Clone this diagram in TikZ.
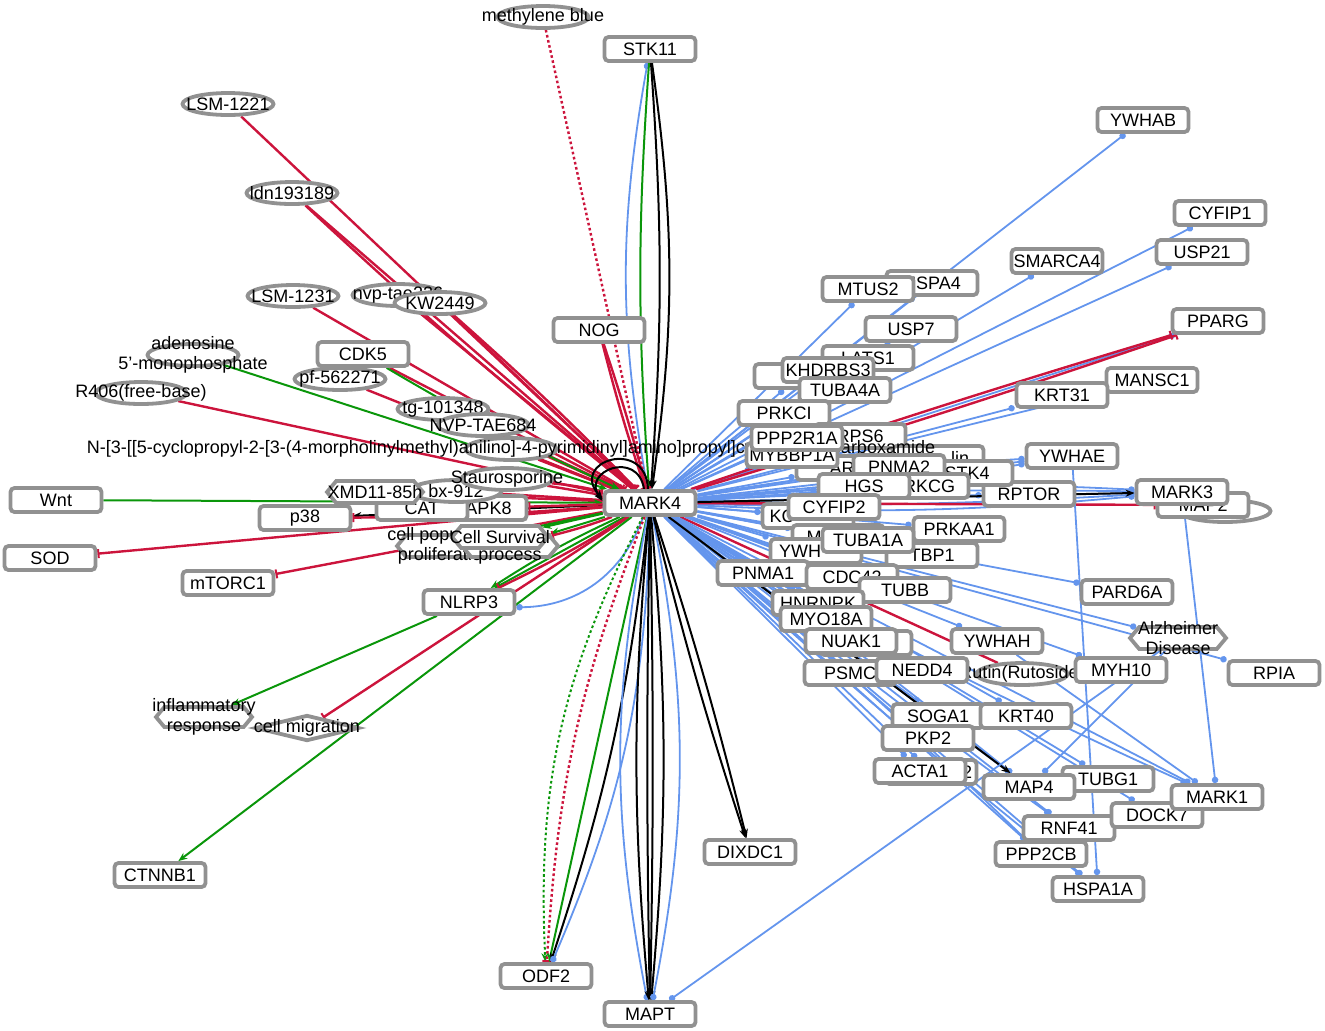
\documentclass[tikz,border=0pt]{standalone}
\usepackage{fontspec}
\setmainfont{Liberation Sans}
\usetikzlibrary{arrows.meta,shapes.geometric,shapes.symbols}
\definecolor{nodegray}{RGB}{145,145,145}
\definecolor{edgeblue}{RGB}{100,149,237}
\definecolor{edgered}{RGB}{204,20,60}
\definecolor{edgegreen}{RGB}{10,150,10}
\pgfdeclarelayer{edges}
\pgfsetlayers{edges,main}
\tikzset{
  gene/.style={rectangle, rounded corners=2pt, draw=nodegray, line width=1.9pt, fill=white, minimum width=45.5pt, minimum height=12pt, inner sep=0.5pt},
  drug/.style={ellipse, draw=nodegray, line width=1.9pt, fill=white, minimum width=45.5pt, minimum height=11pt, inner sep=0pt},
  proc/.style={signal, signal to=west and east, signal pointer angle=100, draw=nodegray, line width=1.9pt, fill=white, minimum width=48pt, minimum height=11pt, inner sep=0pt},
  pheno/.style={diamond, aspect=4, draw=nodegray, line width=1.9pt, fill=white, minimum width=52pt, minimum height=13pt, inner sep=0pt},
  bnd/.style={draw=edgeblue, line width=0.9pt, -{Circle[length=3.2pt]}},
  inh/.style={draw=edgered, line width=1.2pt, -{Bar[width=4.5pt,line width=1pt]}},
  act/.style={draw=edgegreen, line width=1pt, -{Stealth[length=4.5pt,width=3.5pt]}},
  blk/.style={draw=black, line width=1pt, -{Stealth[length=4.5pt,width=3.5pt]}},
  dots/.style={dash pattern=on 1.3pt off 1.3pt}
}
\begin{document}
\begin{tikzpicture}[x=0.5pt, y=-0.5pt, font=\fontsize{9}{10}\selectfont]
\useasboundingbox (0,0) rectangle (1325,1030);

% centre
\node[gene] (STK11) at (650,49) {STK11};
\node[drug, label={center:methylene blue}] (mblue) at (543,17) {};
\node[gene] (NOG) at (599,330) {NOG};
\node[gene] (ODF2) at (546,976) {ODF2};
\node[gene] (MAPT) at (650,1014) {MAPT};
\node[gene] (DIXDC1) at (750,852) {DIXDC1};

% right, upper part
\node[gene] (YWHAB) at (1143,120) {YWHAB};
\node[gene] (CYFIP1) at (1220,213) {CYFIP1};
\node[gene] (USP21) at (1202,252) {USP21};
\node[gene] (SMARCA4) at (1057,261) {SMARCA4};
\node[gene] (PPARG) at (1218,321) {PPARG};
\node[gene] (HSPA4) at (932,283) {HSPA4};
\node[gene] (MTUS2) at (868,289) {MTUS2};
\node[gene] (USP7) at (911,329) {USP7};
\node[gene] (MANSC1) at (1152,380) {MANSC1};
\node[gene] (KRT31) at (1062,395) {KRT31};
\node[gene] (LATS1) at (868,358) {LATS1};
\node[gene] (boxA) at (800,376) {};
\node[gene] (KHDRBS3) at (828,370) {KHDRBS3};
\node[gene] (TUBA4A) at (845,390) {TUBA4A};
\node[gene] (PRKCI) at (784,413) {PRKCI};
\node[gene] (RPS6) at (860,436) {RPS6};
\node[gene, label={[xshift=11pt]center:lin}] (linbox) at (938,458) {};

% left
\node[drug, label={center:LSM-1221}] (LSM1221) at (228,104) {};
\node[drug, label={center:ldn193189}] (ldn) at (292,193) {};
\node[drug, label={center:LSM-1231}] (LSM1231) at (293,296) {};
\node[drug, label={center:nvp-tae226}] (nvp) at (398,295) {};
\node[drug, label={center:KW2449}] (KW2449) at (440,303) {};
\node[gene] (CDK5) at (363,354) {CDK5};
\node[drug, label={[align=center]center:{adenosine\\5'-monophosphate}}] (AMP) at (193,355) {};
\node[drug, label={center:pf-562271}] (pf) at (340,379) {};
\node[drug, label={center:R406(free-base)}] (R406) at (141,393) {};
\node[drug, label={center:tg-101348}] (tg) at (443,409) {};
\node[drug, label={center:NVP-TAE684}] (NVP) at (483,425) {};
\node[drug, label={center:{N-[3-[[5-cyclopropyl-2-[3-(4-morpholinylmethyl)anilino]-4-pyrimidinyl]amino]propyl]cyclobutanecarboxamide}}] (Nlong) at (511,449) {};
\node[gene] (Wnt) at (56,500) {Wnt};
\node[gene] (SOD) at (50,558) {SOD};
\node[gene] (mTORC1) at (228,583) {mTORC1};
\node[gene] (p38) at (305,518) {p38};
\node[gene] (MAPK8) at (481,508) {MAPK8};
\node[gene] (CAT) at (422,508) {CAT};
\node[drug, label={center:bx-912}] (bxnine) at (456,491) {};
\node[proc, label={center:XMD11-85h}] (XMD) at (375,492) {};
\node[drug, label={center:Staurosporine}] (Stauro) at (507,479) {};
\node[proc, label={[align=center]center:{cell population\\proliferation}}] (cellpop) at (445,546) {};
\node[proc, label={[align=center]center:{apoptotic\\process}}] (apop) at (510,546) {};
\node[proc, label={center:Cell Survival}] (CellSurv) at (500,537) {};
\node[gene] (NLRP3) at (469,602) {NLRP3};
\node[proc, minimum height=10pt, label={[align=center]center:{inflammatory\\response}}] (infl) at (204,717) {};
\node[pheno, label={center:cell migration}] (migr) at (307,728) {};
\node[gene] (CTNNB1) at (160,875) {CTNNB1};

% right, lower part
\node[gene, label={center:AR}] (ARbox) at (842,468) {};
\node[gene] (MYBBP1A) at (792,455) {MYBBP1A};
\node[gene] (PPP2R1A) at (797,438) {PPP2R1A};
\node[gene] (YWHAE) at (1072,456) {YWHAE};
\node[gene] (RPTOR) at (1029,494) {RPTOR};
\node[gene] (STK4) at (967,473) {STK4};
\node[gene] (PNMA2) at (899,467) {PNMA2};
\node[gene] (PRKCG) at (923,486) {PRKCG};
\node[gene] (HGS) at (864,486) {HGS};
\node[drug] (MAPell) at (1225,511) {};
\node[gene] (MAP2) at (1203,505) {MAP2};
\node[gene] (MARK3) at (1182,492) {MARK3};
\node[gene, label={[xshift=-13pt]center:KC}] (KCbox) at (808,516) {};
\node[gene] (CYFIP2) at (834,507) {CYFIP2};
\node[gene] (PRKAA1) at (959,529) {PRKAA1};
\node[gene, label={[xshift=-12pt]center:M}] (Mbox) at (838,537) {};
\node[gene, label={[xshift=-8pt]center:YWH}] (YWHbox) at (816,551) {};
\node[gene] (TBP1) at (932,555) {TBP1};
\node[gene] (TUBA1A) at (868,540) {TUBA1A};
\node[gene] (PNMA1) at (763,573) {PNMA1};
\node[gene] (CDC42) at (852,577) {CDC42};
\node[gene] (TUBB) at (905,590) {TUBB};
\node[gene] (PARD6A) at (1127,592) {PARD6A};
\node[gene] (HNRNPK) at (818,603) {HNRNPK};
\node[gene] (MYO18A) at (826,619) {MYO18A};
\node[gene] (boxN) at (866,643) {};
\node[gene] (NUAK1) at (851,641) {NUAK1};
\node[gene] (YWHAH) at (997,641) {YWHAH};
\node[proc, label={[align=center]center:{Alzheimer\\Disease}}] (Alz) at (1178,638) {};
\node[gene] (RPIA) at (1274,673) {RPIA};
\node[drug, label={center:Rutin(Rutoside)}] (Rutin) at (1022,674) {};
\node[gene] (PSMC) at (850,673) {PSMC};
\node[gene] (NEDD4) at (922,670) {NEDD4};
\node[gene] (MYH10) at (1121,670) {MYH10};
\node[gene] (SOGA1) at (938,716) {SOGA1};
\node[gene] (KRT40) at (1026,716) {KRT40};
\node[gene] (PKP2) at (928,738) {PKP2};
\node[gene, label={[xshift=18pt]center:2}] (boxT) at (931,772) {};
\node[gene] (ACTA1) at (920,771) {ACTA1};
\node[gene] (TUBG1) at (1108,779) {TUBG1};
\node[gene] (MAP4) at (1029,787) {MAP4};
\node[gene] (RNF41) at (1069,828) {RNF41};
\node[gene] (PPP2CB) at (1041,854) {PPP2CB};
\node[gene] (DOCK7) at (1157,815) {DOCK7};
\node[gene] (MARK1) at (1217,797) {MARK1};
\node[gene] (HSPA1A) at (1098,889) {HSPA1A};

\node[gene] (MARK4) at (650,503) {MARK4};

\begin{pgfonlayer}{edges}
% STK11, NOG, methylene blue
\draw[bnd] (MARK4) to[bend left=10] (STK11);
\draw[act] (STK11) to[bend right=4] (MARK4);
\draw[blk] (STK11) to[bend left=4] (MARK4);
\draw[blk] (STK11) to[bend left=8] (MARK4);
\draw[inh,dots] (mblue) -- (MARK4);
\draw[inh] (NOG) to[bend left=2] (MARK4);
\draw[inh] (NOG) to[bend right=2] (MARK4);
% drugs
\foreach \d in {LSM1221,ldn,LSM1231,nvp,KW2449,pf,R406,tg,NVP,Nlong,Stauro,bxnine,XMD,CDK5,Rutin}
  \draw[inh] (\d) -- (MARK4);
\draw[inh] (ldn) to[bend right=2] (MARK4);
\draw[inh] (KW2449) to[bend left=2] (MARK4);
\draw[inh] (Stauro) to[bend left=4] (MARK4);
\draw[act] (AMP) -- (MARK4);
\draw[act] (CDK5) to[bend right=3] (MARK4);
\draw[act] (Wnt) -- (MARK4);
% left targets
\draw[blk] (MARK4) -- (p38);
\draw[inh] (MARK4) to[bend left=2] (p38);
\draw[inh] (MARK4) -- (MAPK8);
\draw[inh] (MARK4) -- (SOD);
\draw[inh] (MARK4) -- (mTORC1);
\draw[act] (MARK4) -- (cellpop);
\draw[act] (MARK4) -- (CellSurv);
\draw[act] (MARK4) -- (apop);
\draw[inh] (MARK4) to[bend left=3] (apop);
\draw[act] (MARK4) -- (NLRP3);
\draw[act] (MARK4) to[bend right=4] (NLRP3);
\draw[inh] (MARK4) to[bend left=3] (NLRP3);
\draw[bnd] (MARK4) to[bend left=35] (NLRP3);
\draw[act] (NLRP3) -- (infl);
\draw[inh] (MARK4) -- (migr);
\draw[act] (MARK4) -- (CTNNB1);
\draw[blk] ([xshift=-3pt]MARK4.north) .. controls +(-6,-40) and +(-22,-30) .. ([yshift=1pt]MARK4.west);
\draw[blk] ([xshift=-1pt]MARK4.north) .. controls +(-2,-52) and +(-34,-38) .. ([yshift=2pt]MARK4.west);
% bottom
\draw[act,dots] (MARK4) to[bend right=15] (ODF2);
\draw[inh,dots] (MARK4) to[bend right=9] (ODF2);
\draw[act] (MARK4) -- (ODF2);
\draw[blk] (MARK4) to[bend left=6] (ODF2);
\draw[bnd] (MARK4) to[bend left=11] (ODF2);
\draw[bnd] (MARK4) to[bend right=11] (MAPT);
\draw[blk] (MARK4) to[bend right=5] (MAPT);
\draw[blk] (MARK4) to[bend right=1] (MAPT);
\draw[blk] (MARK4) to[bend left=1] (MAPT);
\draw[blk] (MARK4) to[bend left=5] (MAPT);
\draw[bnd] (MARK4) to[bend left=11] (MAPT);
\draw[blk] (MARK4) to[bend left=2] (DIXDC1);
\draw[blk] (MARK4) to[bend right=2] (DIXDC1);
% right fan
\foreach \t in {YWHAB,CYFIP1,USP21,SMARCA4,HSPA4,MTUS2,USP7,PPARG,MANSC1,KRT31,LATS1,boxA,KHDRBS3,TUBA4A,PRKCI,RPS6,linbox,ARbox,MYBBP1A,PPP2R1A,YWHAE,RPTOR,STK4,PNMA2,PRKCG,HGS,MARK3,KCbox,CYFIP2,PRKAA1,Mbox,YWHbox,TBP1,TUBA1A,PNMA1,CDC42,TUBB,PARD6A,HNRNPK,MYO18A,boxN,NUAK1,YWHAH,Alz,RPIA,PSMC,NEDD4,MYH10,SOGA1,KRT40,PKP2,boxT,ACTA1,TUBG1,MAP4,RNF41,PPP2CB,DOCK7,MARK1,HSPA1A}
  \draw[bnd] (MARK4) -- (\t);
\foreach \b in {2,4} {
  \draw[bnd] (MARK4) to[bend left=\b] (MARK3);
  \draw[bnd] (MARK4) to[bend right=\b] (MARK3);
}
\draw[bnd] (MARK4) to[bend left=3] (YWHAE);
\draw[bnd] (MARK4) to[bend right=3] (YWHAE);
\draw[bnd] (MARK4) to[bend left=2] (MAP4);
\draw[bnd] (MARK4) to[bend right=2] (RNF41);
\draw[bnd] (MARK4) to[bend left=2] (PPP2CB);
\draw[bnd] (MARK4) to[bend right=2] (HSPA1A);
\draw[bnd] (MARK4) to[bend right=3] (MARK1);
\draw[inh] (MARK4) to[bend left=1] (PPARG);
\draw[inh] (MARK4) to[bend right=1] (PPARG);
\draw[inh] (MARK4) -- (MAP2);
\draw[blk] (MARK4) -- (MARK3);
\draw[blk] (MARK4) -- (MAP4);
\draw[bnd] (YWHAE) -- (HSPA1A);
\draw[bnd] (MARK3) -- (MARK1);
\draw[bnd] (YWHAH) -- (MARK1);
\draw[bnd] (Alz) -- (MAPT);
\draw[bnd] (Alz) -- (MAP4);
\end{pgfonlayer}
\end{tikzpicture}
\end{document}
